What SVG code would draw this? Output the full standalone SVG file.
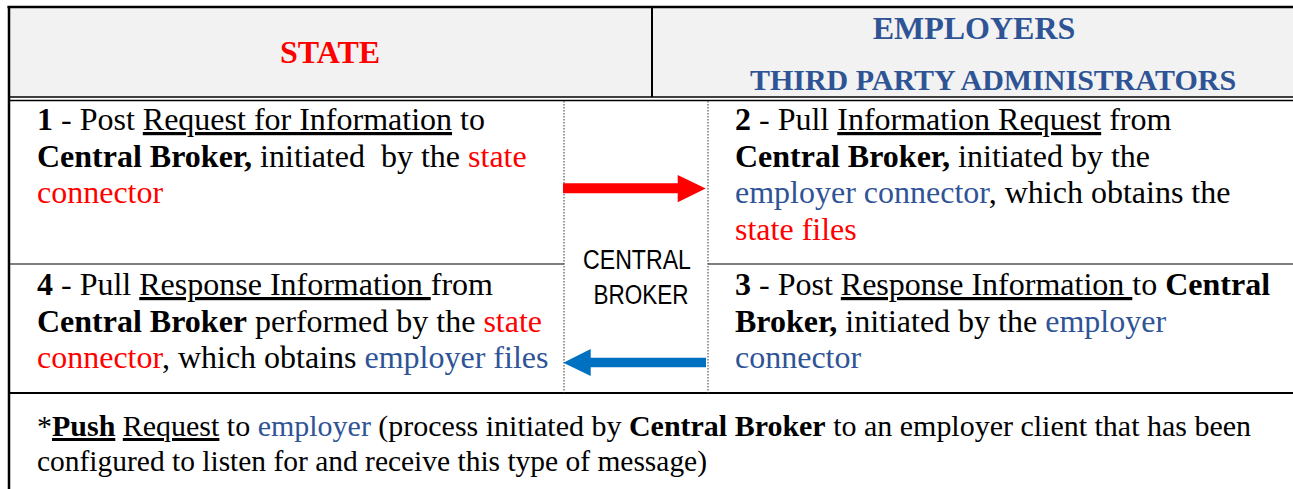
<svg xmlns="http://www.w3.org/2000/svg" width="1293" height="489" viewBox="0 0 1293 489">
<style>
.t{font-family:"Liberation Serif","Times New Roman",serif;font-size:32px;fill:#000;}
.n{font-family:"Liberation Serif","Times New Roman",serif;font-size:30px;fill:#000;}
.h{font-family:"Liberation Serif","Times New Roman",serif;font-size:32px;font-weight:bold;}
.h2{font-size:30px;}
.b{font-weight:bold;}
.u{text-decoration:underline;}
.r{fill:#ff0000;}
.bl{fill:#2f5496;}
.cb{font-family:"Liberation Sans",Arial,sans-serif;font-size:27px;fill:#000;}
.ln{stroke:#000;fill:none;}
.dot{stroke:#333;stroke-width:1;stroke-dasharray:1.5,1.5;fill:none;}
</style>
<g id="header">
<rect x="9" y="7" width="1284" height="90" fill="#f2f2f2"/>
<text class="h r" x="330" y="63" text-anchor="middle">STATE</text>
<text class="h bl" x="974" y="39" text-anchor="middle">EMPLOYERS</text>
<text class="h h2 bl" x="993" y="90" text-anchor="middle">THIRD PARTY ADMINISTRATORS</text>
</g>
<g id="grid">
<line class="ln" x1="7.5" y1="7" x2="1293" y2="7" stroke-width="2.5"/>
<line class="ln" x1="9" y1="6" x2="9" y2="489" stroke-width="2.5"/>
<line class="ln" x1="652" y1="7" x2="652" y2="97" stroke-width="2"/>
<line class="ln" x1="9" y1="97" x2="1293" y2="97" stroke-width="1.6"/>
<line class="ln" x1="9" y1="100.5" x2="1293" y2="100.5" stroke-width="1.6"/>
<line class="ln" x1="9" y1="264" x2="564" y2="264" stroke-width="1.2"/>
<line class="ln" x1="708" y1="264" x2="1293" y2="264" stroke-width="1.2"/>
<line class="ln" x1="9" y1="393" x2="1293" y2="393" stroke-width="2"/>
<line class="dot" x1="564" y1="101" x2="564" y2="393"/>
<line class="dot" x1="708" y1="101" x2="708" y2="393"/>
</g>
<g id="cell-1">
<text class="t" xml:space="preserve"><tspan x="37" y="130"><tspan class="b">1</tspan> - Post <tspan class="u">Request for Information</tspan> to</tspan><tspan x="37" y="167"><tspan class="b">Central Broker,</tspan> initiated  by the <tspan class="r">state</tspan></tspan><tspan x="37" y="203" class="r">connector</tspan></text>
</g>
<g id="cell-2">
<text class="t" xml:space="preserve"><tspan x="735" y="130"><tspan class="b">2</tspan> - Pull <tspan class="u">Information Request</tspan> from</tspan><tspan x="735" y="167"><tspan class="b">Central Broker,</tspan> initiated by the</tspan><tspan x="735" y="203"><tspan class="bl">employer connector</tspan>, which obtains the</tspan><tspan x="735" y="240" class="r">state files</tspan></text>
</g>
<g id="cell-3">
<text class="t" xml:space="preserve"><tspan x="735" y="295"><tspan class="b">3</tspan> - Post <tspan class="u">Response Information </tspan>to <tspan class="b">Central</tspan></tspan><tspan x="735" y="332"><tspan class="b">Broker,</tspan> initiated by the <tspan class="bl">employer</tspan></tspan><tspan x="735" y="368" class="bl">connector</tspan></text>
</g>
<g id="cell-4">
<text class="t" xml:space="preserve"><tspan x="37" y="295"><tspan class="b">4</tspan> - Pull <tspan class="u">Response Information </tspan>from</tspan><tspan x="37" y="332"><tspan class="b">Central Broker</tspan> performed by the <tspan class="r">state</tspan></tspan><tspan x="37" y="368"><tspan class="r">connector</tspan>, which obtains <tspan class="bl">employer files</tspan></tspan></text>
</g>
<g id="central-broker">
<text class="cb" x="637" y="269" text-anchor="middle" textLength="108" lengthAdjust="spacingAndGlyphs">CENTRAL</text>
<text class="cb" x="641" y="304" text-anchor="middle" textLength="95" lengthAdjust="spacingAndGlyphs">BROKER</text>
</g>
<g id="connectors">
<polygon points="563,183.3 677.7,183.3 677.7,175 705.7,188.5 677.7,202.3 677.7,193.3 563,193.3" fill="#ff0000"/>
<polygon points="706,357.7 590.7,357.7 590.7,349 563.3,362.7 590.7,376 590.7,367.3 706,367.3" fill="#0070c0"/>
</g>
<g id="note">
<text class="n" xml:space="preserve" x="37" y="436" textLength="1214" lengthAdjust="spacingAndGlyphs">*<tspan class="b u">Push</tspan> <tspan class="u">Request</tspan> to <tspan class="bl">employer</tspan> (process initiated by <tspan class="b">Central Broker</tspan> to an employer client that has been</text>
<text class="n" x="37" y="471" textLength="670" lengthAdjust="spacingAndGlyphs">configured to listen for and receive this type of message)</text>
</g>
</svg>
